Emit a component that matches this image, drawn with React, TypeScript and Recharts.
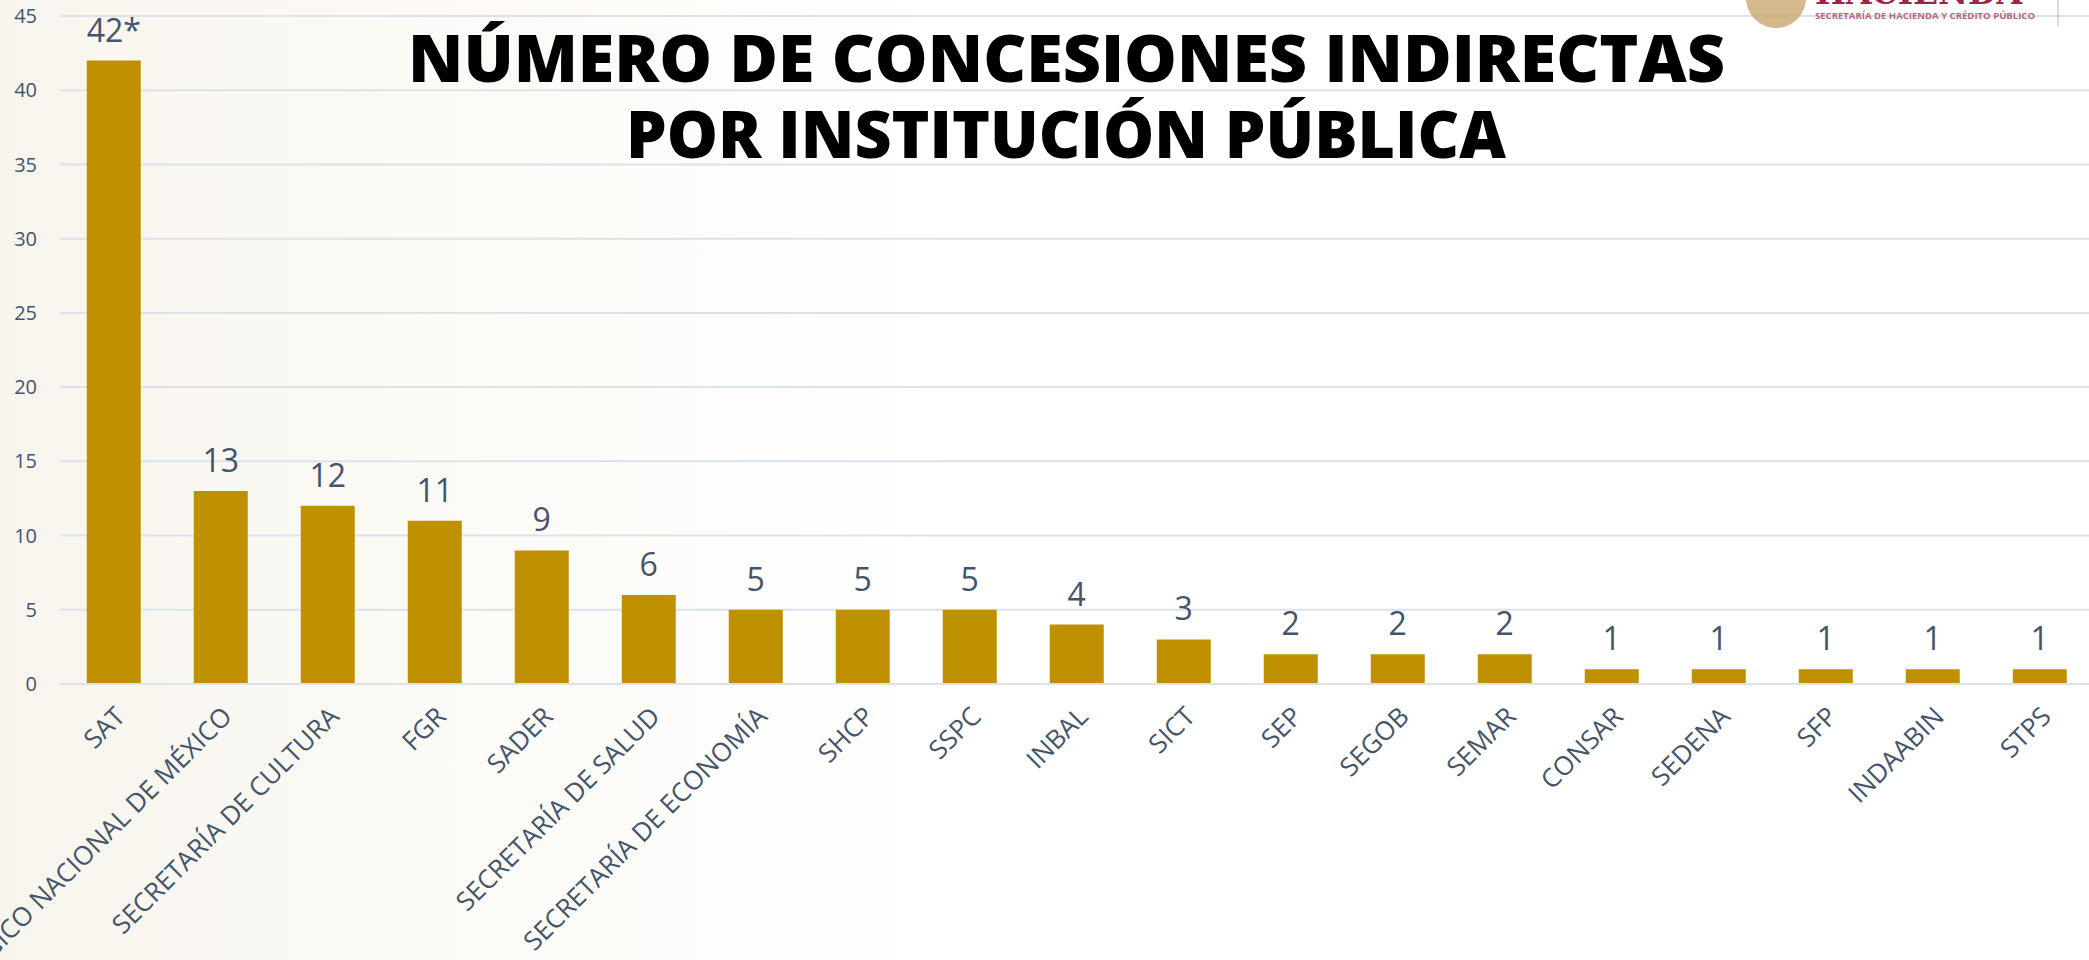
import { Bar, BarChart, CartesianGrid, LabelList, XAxis, YAxis } from "recharts";

const categories = [
  "SAT",
  "TECNOLÓGICO NACIONAL DE MÉXICO",
  "SECRETARÍA DE CULTURA",
  "FGR",
  "SADER",
  "SECRETARÍA DE SALUD",
  "SECRETARÍA DE ECONOMÍA",
  "SHCP",
  "SSPC",
  "INBAL",
  "SICT",
  "SEP",
  "SEGOB",
  "SEMAR",
  "CONSAR",
  "SEDENA",
  "SFP",
  "INDAABIN",
  "STPS",
];

const concessions = [42, 13, 12, 11, 9, 6, 5, 5, 5, 4, 3, 2, 2, 2, 1, 1, 1, 1, 1];

const footnotes = ["*", "", "", "", "", "", "", "", "", "", "", "", "", "", "", "", "", "", ""];

const yTicks = [0, 5, 10, 15, 20, 25, 30, 35, 40, 45];

const TITLE_LINES = ["NÚMERO DE CONCESIONES INDIRECTAS", "POR INSTITUCIÓN PÚBLICA"];

const GOLD = "#bf9000";
const SLATE = "#44546a";
const GRID = "#dde2ea";

const data = categories.map((name, i) => ({
  name,
  value: concessions[i],
  label: `${concessions[i]}${footnotes[i]}`,
}));

export default function App() {
  return (
    <div
      style={{
        position: "fixed",
        left: 0,
        top: 0,
        width: 2089,
        height: 960,
        overflow: "hidden",
        background: "linear-gradient(90deg, #f8f5ee 0%, #fcfbf7 25%, #ffffff 45%)",
      }}
    >
      <BarChart
        width={2100}
        height={960}
        data={data}
        margin={{ top: 16, right: 7, left: 0, bottom: 0 }}
        barCategoryGap="25%"
      >
        <CartesianGrid vertical={false} stroke={GRID} strokeWidth={2} />
        <XAxis
          dataKey="name"
          interval={0}
          height={276}
          axisLine={{ stroke: GRID, strokeWidth: 2 }}
          tickLine={false}
          tickMargin={15}
          angle={-45}
          textAnchor="end"
          tick={{ fontSize: 26, fill: SLATE, fontFamily: "Open Sans" }}
        />
        <YAxis
          width={60}
          domain={[0, 45]}
          ticks={yTicks}
          axisLine={false}
          tickLine={false}
          tickMargin={17}
          tick={{ fontSize: 20, fill: SLATE, fontFamily: "Open Sans" }}
        />
        <Bar dataKey="value" fill={GOLD} isAnimationActive={false}>
          <LabelList
            dataKey="label"
            position="top"
            offset={19}
            style={{ fontSize: 32, fill: SLATE, fontFamily: "Open Sans" }}
          />
        </Bar>
      </BarChart>

      <svg
        width={2089}
        height={960}
        style={{ position: "absolute", left: 0, top: 0, pointerEvents: "none" }}
      >
        <text
          x={408}
          y={82}
          textLength={1317}
          lengthAdjust="spacingAndGlyphs"
          fontSize={65}
          fontWeight={800}
          fontFamily="Open Sans"
          fill="#000"
        >
          {TITLE_LINES[0]}
        </text>
        <text
          x={626}
          y={158}
          textLength={880}
          lengthAdjust="spacingAndGlyphs"
          fontSize={65}
          fontWeight={800}
          fontFamily="Open Sans"
          fill="#000"
        >
          {TITLE_LINES[1]}
        </text>

        {/* logo fragment, top right */}
        <circle cx={1776} cy={-2} r={30} fill="#c8a86e" opacity={0.8} />
        <text
          x={1815}
          y={4}
          textLength={207}
          lengthAdjust="spacingAndGlyphs"
          fontSize={34}
          fontWeight={700}
          fontFamily="DejaVu Serif"
          fill="#9d2449"
        >
          HACIENDA
        </text>
        <text
          x={1815}
          y={19}
          textLength={220}
          lengthAdjust="spacingAndGlyphs"
          fontSize={8}
          fontWeight={700}
          fontFamily="Open Sans"
          fill="#b5667e"
        >
          SECRETARÍA DE HACIENDA Y CRÉDITO PÚBLICO
        </text>
        <line x1={2058} y1={0} x2={2058} y2={26} stroke="#b9b9b9" strokeWidth={1} />
      </svg>
    </div>
  );
}
